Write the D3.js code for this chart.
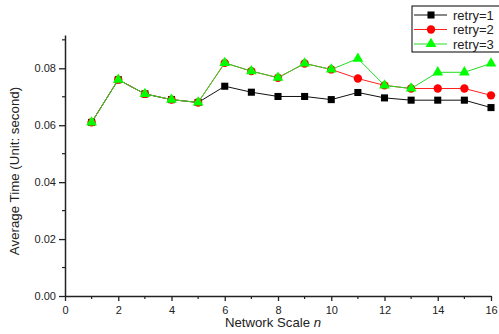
<!DOCTYPE html>
<html>
<head>
<meta charset="utf-8">
<script src="https://cdn.jsdelivr.net/npm/d3@7"></script>
<style>
  body { margin: 0; background: #fff; }
  svg text { font-family: Arial, "Liberation Sans", sans-serif; fill: #222; }
</style>
</head>
<body>
<div class="chart-container"></div>
<script>
const scales = [1, 2, 3, 4, 5, 6, 7, 8, 9, 10, 11, 12, 13, 14, 15, 16];
const retry1 = [0.061, 0.076, 0.071, 0.069, 0.068, 0.0737, 0.0716, 0.0701, 0.0701, 0.069, 0.0715, 0.0696, 0.0688, 0.0688, 0.0688, 0.0662];
const retry2 = [0.061, 0.076, 0.071, 0.069, 0.068, 0.0819, 0.079, 0.0767, 0.0817, 0.0796, 0.0764, 0.074, 0.0729, 0.0729, 0.0729, 0.0705];
const retry3 = [0.061, 0.076, 0.071, 0.069, 0.068, 0.0819, 0.079, 0.0767, 0.0817, 0.0796, 0.0834, 0.074, 0.0729, 0.0786, 0.0786, 0.0817];
const seriesNames = ["retry=1", "retry=2", "retry=3"];
const xTicks = [0, 2, 4, 6, 8, 10, 12, 14, 16];
const yTicks = [0, 0.02, 0.04, 0.06, 0.08];

const w = 499;
const h = 334;

const series = [
    { name: seriesNames[0], values: retry1, line: "#111", fill: "#000", shape: d3.symbolSquare, size: 50 },
    { name: seriesNames[1], values: retry2, line: "#ff2020", fill: "#ff0000", shape: d3.symbolCircle, size: 55 },
    { name: seriesNames[2], values: retry3, line: "#22dd22", fill: "#00ff00", shape: d3.symbolTriangle, size: 50 }
];

const svg = d3.select(".chart-container")
    .append("svg")
    .attr("width", w)
    .attr("height", h);

const xScale = d3.scaleLinear().domain([0, 16]).range([65, 491]);
const yScale = d3.scaleLinear().domain([0, 0.0917]).range([296, 35]);

// axes
const xAxis = svg.append("g")
    .attr("transform", "translate(0,296)")
    .call(d3.axisBottom(xScale).tickValues(xTicks).tickFormat(d3.format("d")).tickSize(5).tickSizeOuter(0));
const yAxis = svg.append("g")
    .attr("transform", "translate(65,0)")
    .call(d3.axisLeft(yScale).tickValues(yTicks).tickFormat(d3.format(".2f")).tickSize(6).tickSizeOuter(0));

[xAxis, yAxis].forEach(g => {
    g.select(".domain").attr("stroke", "#222").attr("stroke-width", 1.5);
    g.selectAll(".tick line").attr("stroke", "#222").attr("stroke-width", 1.3);
    g.selectAll(".tick text").style("font-size", "11px").attr("fill", "#222");
});
xAxis.selectAll(".tick text").attr("dy", "0.9em");

// minor ticks
svg.append("g")
    .selectAll("line")
    .data(d3.range(1, 16, 2))
    .enter()
    .append("line")
    .attr("x1", d => xScale(d))
    .attr("x2", d => xScale(d))
    .attr("y1", 296)
    .attr("y2", 299)
    .attr("stroke", "#222")
    .attr("stroke-width", 1.2);
svg.append("g")
    .selectAll("line")
    .data([0.01, 0.03, 0.05, 0.07, 0.09])
    .enter()
    .append("line")
    .attr("x1", 62)
    .attr("x2", 65)
    .attr("y1", d => yScale(d))
    .attr("y2", d => yScale(d))
    .attr("stroke", "#222")
    .attr("stroke-width", 1.2);

// axis titles
svg.append("text")
    .attr("x", 273)
    .attr("y", 327)
    .attr("text-anchor", "middle")
    .style("font-size", "13.2px")
    .html('Network Scale <tspan font-style="italic">n</tspan>');

svg.append("text")
    .attr("transform", "translate(19,171) rotate(-90)")
    .attr("text-anchor", "middle")
    .style("font-size", "13.3px")
    .text("Average Time (Unit: second)");

// series
const line = d3.line().x((d, i) => xScale(scales[i])).y(d => yScale(d));

series.forEach(s => {
    svg.append("path")
        .datum(s.values)
        .attr("fill", "none")
        .attr("stroke", s.line)
        .attr("stroke-width", 1)
        .attr("d", line);

    svg.append("g")
        .selectAll("path")
        .data(s.values)
        .enter()
        .append("path")
        .attr("transform", (d, i) => `translate(${xScale(scales[i])},${yScale(d)})`)
        .attr("d", d3.symbol().type(s.shape).size(s.size))
        .attr("fill", s.fill);
});

// legend
const legend = svg.append("g").attr("transform", "translate(412,6)");
legend.append("rect")
    .attr("width", 95)
    .attr("height", 46)
    .attr("fill", "#fff")
    .attr("stroke", "#000")
    .attr("stroke-width", 1);

series.forEach((s, i) => {
    const y = 9 + i * 14.5;
    legend.append("line")
        .attr("x1", 2).attr("x2", 35)
        .attr("y1", y).attr("y2", y)
        .attr("stroke", s.line)
        .attr("stroke-width", 1);
    legend.append("path")
        .attr("transform", `translate(19,${y})`)
        .attr("d", d3.symbol().type(s.shape).size(s.size))
        .attr("fill", s.fill);
    legend.append("text")
        .attr("x", 41)
        .attr("y", y)
        .attr("dy", "0.35em")
        .style("font-size", "13px")
        .text(s.name);
});
</script>
</body>
</html>
